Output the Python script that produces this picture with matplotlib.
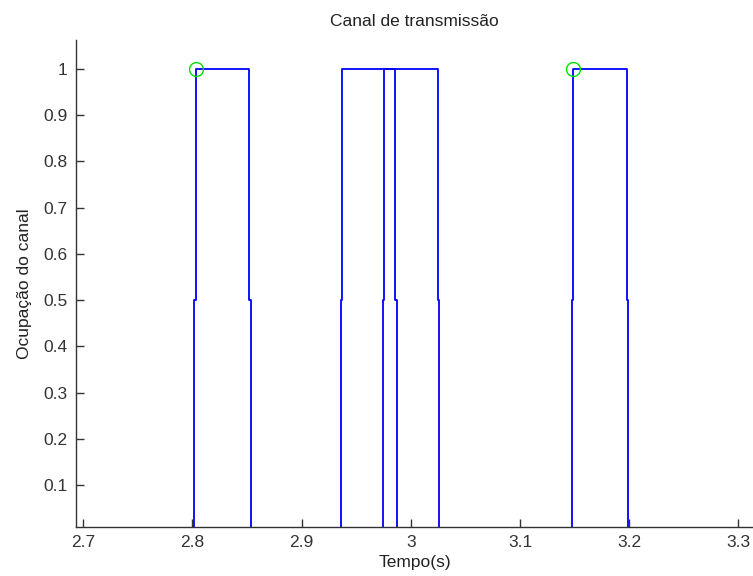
import matplotlib
matplotlib.use("Agg")
import matplotlib.pyplot as plt

# pulse edges: (start low, start high, end high, end low)
rise_lo = [2.8014, 2.9357, 2.9742, 3.1473]
rise_hi = [2.8029, 2.9369, 2.9754, 3.1485]
fall_hi = [2.8520, 2.9857, 3.0249, 3.1979]
fall_lo = [2.8533, 2.9873, 3.0260, 3.1991]

# green circles marking successful transmissions
ok_t = [2.8029, 3.1485]
ok_v = [1.0, 1.0]

xticks = [2.7, 2.8, 2.9, 3.0, 3.1, 3.2, 3.3]
xticklabels = ["2.7", "2.8", "2.9", "3", "3.1", "3.2", "3.3"]
yticks = [0.1, 0.2, 0.3, 0.4, 0.5, 0.6, 0.7, 0.8, 0.9, 1.0]
yticklabels = ["0.1", "0.2", "0.3", "0.4", "0.5", "0.6", "0.7", "0.8", "0.9", "1"]

plt.rcParams['font.family'] = ['Liberation Sans', 'DejaVu Sans']
FS = 12.5

fig = plt.figure(figsize=(7.53, 5.76), dpi=100)
ax = fig.add_axes([0.1009, 0.085, 0.8991, 0.8455])

for a, b, c, d in zip(rise_lo, rise_hi, fall_hi, fall_lo):
    xs = [a, a, b, b, c, c, d, d]
    ys = [0, 0.5, 0.5, 1, 1, 0.5, 0.5, 0]
    ax.plot(xs, ys, color='#0000ff', linewidth=1.3)

ax.plot(ok_t, ok_v, 'o', markerfacecolor='none', markeredgecolor='#00e000',
        markersize=10, markeredgewidth=1.0, linestyle='none')

ax.set_xlim(2.6933, 3.3133)
ax.set_ylim(0.0091, 1.0627)
ax.set_xticks(xticks)
ax.set_xticklabels(xticklabels)
ax.set_yticks(yticks)
ax.set_yticklabels(yticklabels)

for s in ['top', 'right']:
    ax.spines[s].set_visible(False)
for s in ['left', 'bottom']:
    ax.spines[s].set_color('#333333')
    ax.spines[s].set_linewidth(1.0)
ax.tick_params(direction='in', length=6, width=1, colors='#333333',
               labelsize=FS, pad=6)

ax.set_title("Canal de transmissão", fontsize=FS, pad=10, color='#222222')
ax.set_xlabel("Tempo(s)", fontsize=FS, labelpad=3, color='#222222')
ax.set_ylabel("Ocupação do canal", fontsize=FS, labelpad=8, color='#222222')

fig.savefig("out.png", dpi=100)
